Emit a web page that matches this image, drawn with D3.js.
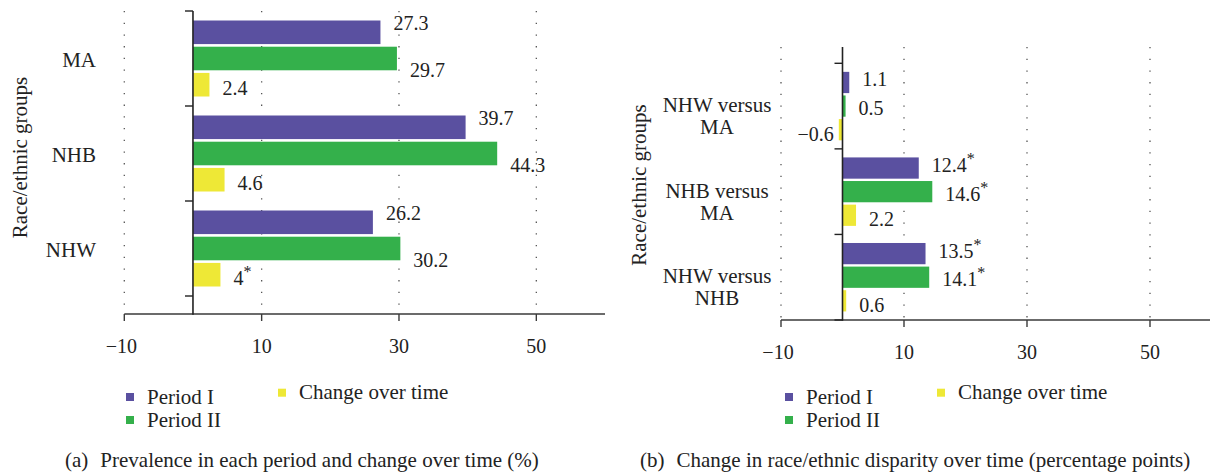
<!DOCTYPE html>
<html>
<head>
<meta charset="utf-8">
<script src="https://cdn.jsdelivr.net/npm/d3@7"></script>
<style>
  html, body { margin: 0; padding: 0; background: #fff; }
  svg text { font-family: "Liberation Serif", "DejaVu Serif", serif; fill: #222; }
</style>
</head>
<body>
<svg id="chart" width="1210" height="474"></svg>
<script>
// series shared by both panels
const seriesNames = ["Period I", "Period II", "Change over time"];
const seriesColors = ["#5a50a0", "#34b04b", "#eee836"];
const xTicks = [-10, 10, 30, 50];

// (a) prevalence
const groupsA = [["MA"], ["NHB"], ["NHW"]];
const periodIA = [27.3, 39.7, 26.2];
const periodIIA = [29.7, 44.3, 30.2];
const changeA = [2.4, 4.6, 4];
const sigIA = [false, false, false];
const sigIIA = [false, false, false];
const sigChangeA = [false, false, true];

// (b) disparity
const groupsB = [["NHW versus", "MA"], ["NHB versus", "MA"], ["NHW versus", "NHB"]];
const periodIB = [1.1, 12.4, 13.5];
const periodIIB = [0.5, 14.6, 14.1];
const changeB = [-0.6, 2.2, 0.6];
const sigIB = [false, true, true];
const sigIIB = [false, true, true];
const sigChangeB = [false, false, false];

const captionA = ["(a)", "Prevalence in each period and change over time (%)"];
const captionB = ["(b)", "Change in race/ethnic disparity over time (percentage points)"];
const yTitle = "Race/ethnic groups";

const svg = d3.select("#chart");
const axisColor = "#3a3a3a";

function fmt(v) {
  return v < 0 ? "\u2212" + Math.abs(v) : String(v);
}

function drawPanel(cfg) {
  const g = svg.append("g");

  const x = d3.scaleLinear().domain([-10, 60]).range(cfg.xRange);
  const y0 = d3.scaleBand()
    .domain(d3.range(cfg.groups.length))
    .range([cfg.bandTop, cfg.bandBottom]);
  const bw = y0.bandwidth();
  const y1 = d3.scaleBand()
    .domain(d3.range(seriesNames.length))
    .range([bw * 0.1, bw * 0.9])
    .paddingInner(0.1);

  // dotted grid
  g.selectAll(".grid")
    .data(xTicks)
    .enter().append("line")
    .attr("x1", d => x(d)).attr("x2", d => x(d))
    .attr("y1", cfg.axisTop).attr("y2", cfg.xAxisY)
    .attr("stroke", "#555")
    .attr("stroke-width", 1.3)
    .attr("stroke-dasharray", "1.3,10.4");

  // bars
  const rows = [];
  cfg.groups.forEach((grp, gi) => {
    cfg.series.forEach((vals, si) => {
      rows.push({ gi, si, v: vals[gi], sig: cfg.sig[si][gi] });
    });
  });

  g.selectAll(".bar")
    .data(rows)
    .enter().append("rect")
    .attr("x", d => x(Math.min(0, d.v)))
    .attr("width", d => Math.abs(x(d.v) - x(0)))
    .attr("y", d => y0(d.gi) + y1(d.si))
    .attr("height", y1.bandwidth())
    .attr("fill", d => seriesColors[d.si]);

  // value labels
  const lab = g.selectAll(".val")
    .data(rows)
    .enter().append("text")
    .attr("x", d => d.v < 0 ? x(d.v) - 5 : x(d.v) + 13)
    .attr("y", d => y0(d.gi) + y1(d.si) + y1.bandwidth() / 2 + cfg.labelDy[d.si] + 7)
    .attr("text-anchor", d => d.v < 0 ? "end" : "start")
    .style("font-size", "20px");
  lab.append("tspan").text(d => fmt(d.v));
  lab.filter(d => d.sig).append("tspan")
    .attr("dy", -8)
    .style("font-size", "16px")
    .text("*");

  // x axis
  g.append("line")
    .attr("x1", x.range()[0]).attr("x2", x.range()[1])
    .attr("y1", cfg.xAxisY).attr("y2", cfg.xAxisY)
    .attr("stroke", axisColor).attr("stroke-width", 1.6);
  g.selectAll(".xt")
    .data(xTicks)
    .enter().append("line")
    .attr("x1", d => x(d)).attr("x2", d => x(d))
    .attr("y1", cfg.xAxisY).attr("y2", cfg.xAxisY + 7)
    .attr("stroke", axisColor).attr("stroke-width", 1.4);
  g.selectAll(".xl")
    .data(xTicks)
    .enter().append("text")
    .attr("x", d => x(d) - (d < 0 ? 3 : 0))
    .attr("y", cfg.xAxisY + 39)
    .attr("text-anchor", "middle")
    .style("font-size", "20px")
    .text(d => fmt(d));

  // y axis
  g.append("line")
    .attr("x1", x(0)).attr("x2", x(0))
    .attr("y1", cfg.axisTop).attr("y2", cfg.xAxisY + 0.8)
    .attr("stroke", "#222").attr("stroke-width", 1.6);
  const bounds = d3.range(cfg.groups.length + 1).map(i => cfg.bandTop + i * bw);
  g.selectAll(".yt")
    .data(bounds)
    .enter().append("line")
    .attr("x1", x(0) - 8).attr("x2", x(0))
    .attr("y1", d => d).attr("y2", d => d)
    .attr("stroke", "#222").attr("stroke-width", 1.4);

  const yl = g.selectAll(".yl")
    .data(cfg.groups)
    .enter().append("text")
    .attr("text-anchor", cfg.yLabelAnchor)
    .style("font-size", "21px");
  yl.each(function(lines, gi) {
    const t = d3.select(this);
    lines.forEach((ln, li) => {
      t.append("tspan")
        .attr("x", cfg.yLabelX)
        .attr("y", y0(gi) + bw / 2 + cfg.yLabelDy + li * 22)
        .text(ln);
    });
  });

  g.append("text")
    .attr("transform", `translate(${cfg.titleX},${cfg.titleY}) rotate(-90)`)
    .attr("text-anchor", "middle")
    .attr("dominant-baseline", "central")
    .style("font-size", "21px")
    .text(yTitle);

  // legend
  const legendPos = [[0, 0], [0, 1], [152, -0.1]];
  const lg = g.selectAll(".lg")
    .data(seriesNames)
    .enter().append("g")
    .attr("transform", (d, i) => `translate(${cfg.legendX + legendPos[i][0]},${393 + legendPos[i][1] * 23 - (i === 2 ? 2 : 0)})`);
  lg.append("rect")
    .attr("width", 8).attr("height", 8)
    .attr("fill", (d, i) => seriesColors[i]);
  lg.append("text")
    .attr("x", 21).attr("y", 10.5)
    .style("font-size", "21px")
    .text(d => d);

  const cap = g.append("text")
    .attr("x", cfg.captionX).attr("y", 467)
    .style("font-size", "21px");
  cap.append("tspan").text(cfg.caption[0]);
  cap.append("tspan").attr("dx", 12).text(cfg.caption[1]);
}

drawPanel({
  groups: groupsA,
  series: [periodIA, periodIIA, changeA],
  sig: [sigIA, sigIIA, sigChangeA],
  xRange: [124.3, 605],
  axisTop: 11, bandTop: 11, bandBottom: 296, xAxisY: 314,
  yLabelX: 96, yLabelAnchor: "end", yLabelDy: 8,
  titleX: 20, titleY: 157.5,
  labelDy: [-9, 11, 3],
  legendX: 126, captionX: 65, caption: captionA
});

drawPanel({
  groups: groupsB,
  series: [periodIB, periodIIB, changeB],
  sig: [sigIB, sigIIB, sigChangeB],
  xRange: [781, 1211.5],
  axisTop: 47, bandTop: 63.3, bandBottom: 320, xAxisY: 320,
  yLabelX: 717, yLabelAnchor: "middle", yLabelDy: 6,
  titleX: 639, titleY: 185,
  labelDy: [-3, 2, 4],
  legendX: 785, captionX: 640, caption: captionB
});
</script>
</body>
</html>
